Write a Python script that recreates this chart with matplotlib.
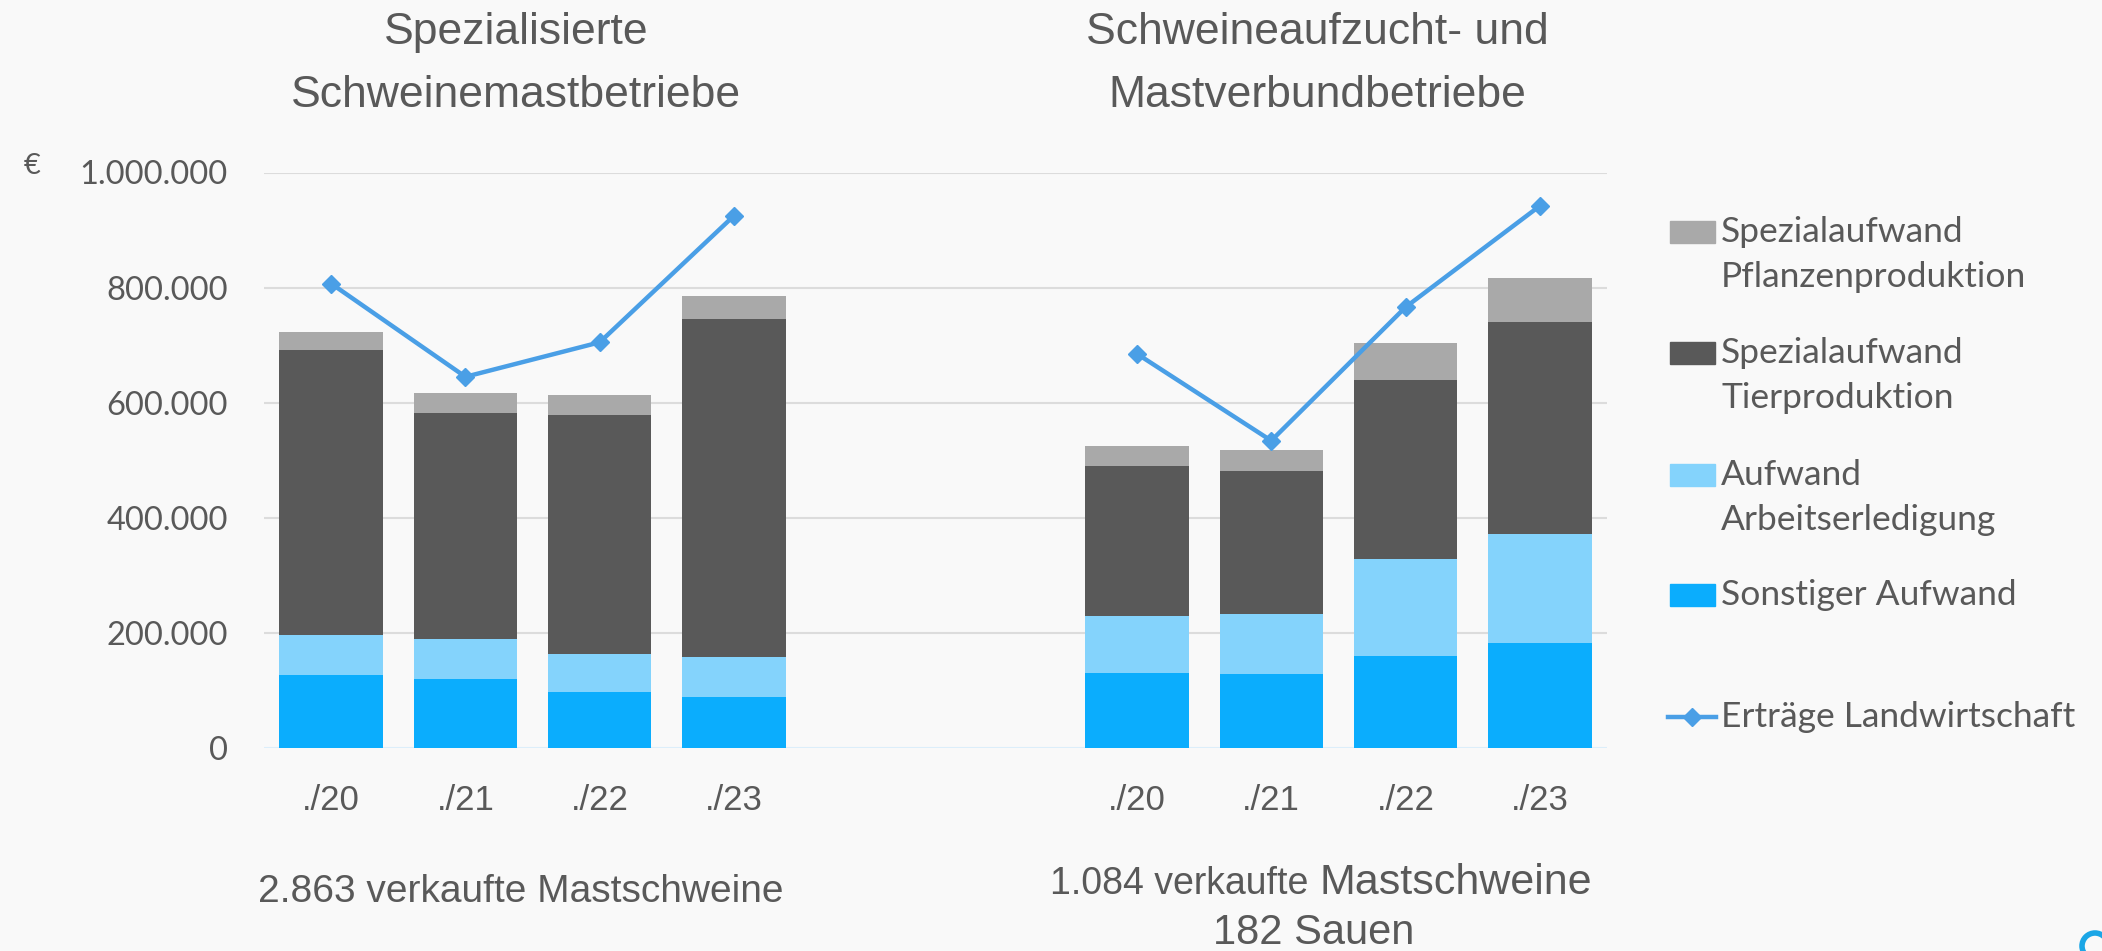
import matplotlib
matplotlib.use("Agg")
import matplotlib.pyplot as plt
from matplotlib.patches import Rectangle, Ellipse
from matplotlib.lines import Line2D
import numpy as np

# ---------------- data ----------------
categories = ["./20", "./21", "./22", "./23"]
group_titles = [["Spezialisierte", "Schweinemastbetriebe"],
                ["Schweineaufzucht- und", "Mastverbundbetriebe"]]

# Spezialisierte Schweinemastbetriebe (EUR)
mast_sonstiger = [127000, 120000, 98000, 88000]
mast_arbeit = [70000, 70000, 65000, 70000]
mast_tier = [494000, 392000, 415000, 587000]
mast_pflanzen = [31000, 35000, 35000, 41000]
mast_ertraege = [807000, 645000, 705000, 925000]

# Schweineaufzucht- und Mastverbundbetriebe (EUR)
verb_sonstiger = [130000, 129000, 160000, 183000]
verb_arbeit = [99000, 104000, 168000, 189000]
verb_tier = [261000, 249000, 312000, 369000]
verb_pflanzen = [35000, 35000, 63000, 75000]
verb_ertraege = [685000, 534000, 766000, 942000]

series_names = ["Sonstiger Aufwand", "Aufwand\nArbeitserledigung",
                "Spezialaufwand\nTierproduktion", "Spezialaufwand\nPflanzenproduktion"]
line_name = "Erträge Landwirtschaft"

yticks = [0, 200000, 400000, 600000, 800000, 1000000]
ytick_labels = ["0", "200.000", "400.000", "600.000", "800.000", "1.000.000"]

# ---------------- style ----------------
C_SONST = "#0badfd"
C_ARBEIT = "#84d3fc"
C_TIER = "#595959"
C_PFL = "#a9a9a9"
C_LINE = "#4a9fe6"
TXT = "#595959"
NARROW = ["Liberation Sans Narrow", "Liberation Sans", "DejaVu Sans"]
SANS = ["Lato", "DejaVu Sans"]

W, H = 2102, 951
fig = plt.figure(figsize=(W / 100, H / 100), dpi=100, facecolor="#f9f9f9")


def fx(px):
    return px / W


def fy(py):
    return 1 - py / H


ax = fig.add_axes([fx(264), fy(748), fx(1607) - fx(264), fy(172.5) - fy(748)])
ax.set_facecolor("none")

x1 = np.arange(len(categories))
x2 = x1 + len(categories) + 2
bw = 0.77

for xs, s, a, t, p, e in [(x1, mast_sonstiger, mast_arbeit, mast_tier, mast_pflanzen, mast_ertraege),
                          (x2, verb_sonstiger, verb_arbeit, verb_tier, verb_pflanzen, verb_ertraege)]:
    s, a, t, p = map(np.array, (s, a, t, p))
    ax.bar(xs, s, bw, color=C_SONST, zorder=2)
    ax.bar(xs, a, bw, bottom=s, color=C_ARBEIT, zorder=2)
    ax.bar(xs, t, bw, bottom=s + a, color=C_TIER, zorder=2)
    ax.bar(xs, p, bw, bottom=s + a + t, color=C_PFL, zorder=2)
    ax.plot(xs, e, color=C_LINE, lw=3.2, marker="D", markersize=9, zorder=3,
            solid_capstyle="butt")

ax.set_xlim(-0.5, 9.5)
ax.set_ylim(0, 1000000)
ax.set_yticks(yticks)
ax.set_yticklabels(ytick_labels, fontfamily=SANS, fontsize=23.5, color=TXT)
ax.set_xticks(list(x1) + list(x2))
ax.set_xticklabels(categories * 2, fontfamily=NARROW, fontsize=25, color=TXT)
ax.tick_params(axis="y", length=0, pad=26)
ax.tick_params(axis="x", length=0, pad=26)
ax.yaxis.grid(True, color="#dcdcdc", lw=1.5, zorder=0)
ax.set_axisbelow(True)
for sp in ax.spines.values():
    sp.set_visible(False)
ax.get_ygridlines()[0].set_color("#dceefa")

# euro sign
fig.text(fx(24), fy(166), "€", fontfamily=SANS, fontsize=21, color=TXT,
         ha="left", va="center")

# titles
for cx, lines in zip([516, 1317], group_titles):
    fig.text(fx(cx), fy(44), lines[0], fontfamily=NARROW, fontsize=32, color=TXT,
             ha="center", va="baseline")
    fig.text(fx(cx), fy(107), lines[1], fontfamily=NARROW, fontsize=32, color=TXT,
             ha="center", va="baseline")

# bottom annotations
fig.text(fx(521), fy(902), "2.863 verkaufte Mastschweine", fontfamily=NARROW,
         fontsize=28, color=TXT, ha="center", va="baseline")
t_a = fig.text(0, fy(894), "1.084 verkaufte ", fontfamily=NARROW, fontsize=27,
               color=TXT, ha="left", va="baseline")
t_b = fig.text(0, fy(894), "Mastschweine", fontfamily=NARROW, fontsize=31,
               color=TXT, ha="left", va="baseline")
fig.canvas.draw()
r = fig.canvas.get_renderer()
wa = t_a.get_window_extent(r).width
wb = t_b.get_window_extent(r).width
start = 1321 - (wa + wb) / 2
t_a.set_x(fx(start))
t_b.set_x(fx(start + wa))
fig.text(fx(1314), fy(944), "182 Sauen", fontfamily=NARROW, fontsize=30,
         color=TXT, ha="center", va="baseline")

# legend (manual, handle aligned with first label line)
leg_entries = [(C_PFL, series_names[3], 232),
               (C_TIER, series_names[2], 353),
               (C_ARBEIT, series_names[1], 475),
               (C_SONST, series_names[0], 595)]
for col, lab, yc in leg_entries:
    fig.add_artist(Rectangle((fx(1670), fy(yc + 11)), fx(45), 22 / H,
                             transform=fig.transFigure, color=col))
    for i, ln in enumerate(lab.split("\n")):
        fig.text(fx(1721), fy(yc + i * 45), ln, fontfamily=SANS, fontsize=25.5,
                 color=TXT, ha="left", va="center")
fig.add_artist(Line2D([fx(1668), fx(1716)], [fy(717), fy(717)], transform=fig.transFigure,
                      color=C_LINE, lw=3.2))
fig.add_artist(Line2D([fx(1692)], [fy(717)], transform=fig.transFigure,
                      color=C_LINE, marker="D", markersize=9))
fig.text(fx(1721), fy(717), line_name, fontfamily=SANS, fontsize=25.5, color=TXT,
         ha="left", va="center")

# logo fragment bottom-right
fig.add_artist(Ellipse((fx(2095), fy(946)), 26 / W, 26 / H, transform=fig.transFigure,
                       fill=False, ec="#1ba6e6", lw=4))

fig.savefig("out.png", dpi=100, facecolor=fig.get_facecolor())
